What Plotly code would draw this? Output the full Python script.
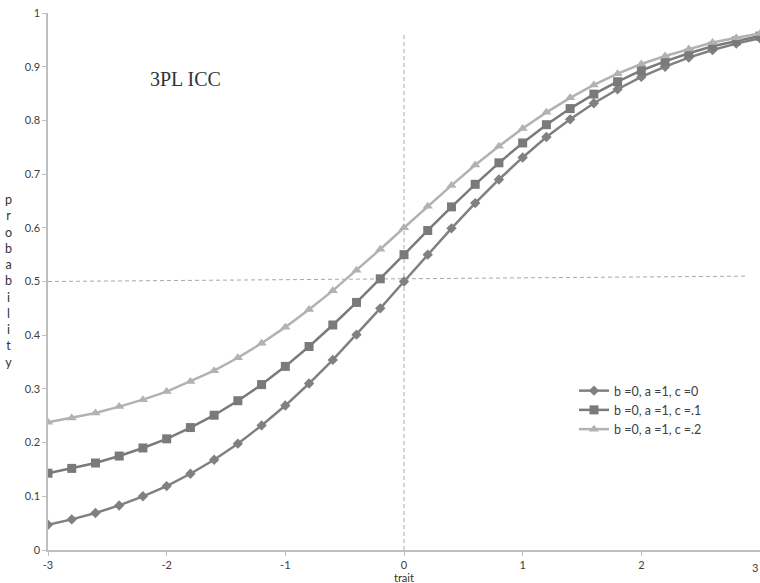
import plotly.graph_objects as go

trait = [-3.0, -2.8, -2.6, -2.4, -2.2, -2.0, -1.8, -1.6, -1.4, -1.2, -1.0, -0.8, -0.6, -0.4, -0.2,
         0.0, 0.2, 0.4, 0.6, 0.8, 1.0, 1.2, 1.4, 1.6, 1.8, 2.0, 2.2, 2.4, 2.6, 2.8, 3.0]

p_c0 = [0.047, 0.057, 0.069, 0.083, 0.100, 0.119, 0.142, 0.168, 0.198, 0.232, 0.269, 0.310, 0.354,
        0.401, 0.450, 0.500, 0.550, 0.599, 0.646, 0.690, 0.731, 0.769, 0.802, 0.832, 0.858, 0.881,
        0.900, 0.917, 0.931, 0.943, 0.953]
p_c1 = [0.143, 0.152, 0.162, 0.175, 0.190, 0.207, 0.228, 0.251, 0.278, 0.308, 0.342, 0.379, 0.419,
        0.461, 0.505, 0.550, 0.595, 0.639, 0.681, 0.721, 0.758, 0.792, 0.822, 0.849, 0.872, 0.893,
        0.910, 0.925, 0.938, 0.948, 0.957]
p_c2 = [0.238, 0.246, 0.255, 0.267, 0.280, 0.295, 0.314, 0.334, 0.358, 0.385, 0.415, 0.448, 0.483,
        0.521, 0.560, 0.600, 0.640, 0.679, 0.717, 0.752, 0.785, 0.815, 0.842, 0.866, 0.887, 0.905,
        0.920, 0.933, 0.945, 0.954, 0.962]

series_names = ["b =0, a =1, c =0", "b =0, a =1, c =.1", "b =0, a =1, c =.2"]

x_ticks = [-3, -2, -1, 0, 1, 2, 3]
y_ticks = [0, 0.1, 0.2, 0.3, 0.4, 0.5, 0.6, 0.7, 0.8, 0.9, 1]
y_tick_text = ["0", "0.1", "0.2", "0.3", "0.4", "0.5", "0.6", "0.7", "0.8", "0.9", "1"]

# reference lines (dashed)
hline_x = [-3, 2.89]
hline_y = [0.5, 0.51]
vline_x = [0, 0]
vline_y = [0, 0.963]

FONT = "Lato"
W, H = 760, 583
L, R, T, B = 48, 0, 13, 33


def px_x(px):
    return (px - L) / (W - L - R)


def px_y(py):
    return (H - B - py) / (H - T - B)


fig = go.Figure()

fig.add_trace(go.Scatter(x=hline_x, y=hline_y, mode="lines", showlegend=False, hoverinfo="skip",
                         line=dict(color="#a8a8a8", width=1, dash="4px,3px")))
fig.add_trace(go.Scatter(x=vline_x, y=vline_y, mode="lines", showlegend=False, hoverinfo="skip",
                         line=dict(color="#a8a8a8", width=1, dash="4px,3px")))

styles = [
    dict(color="#808080", symbol="diamond", size=8),
    dict(color="#7a7a7a", symbol="square", size=9),
    dict(color="#b2b2b2", symbol="triangle-up", size=9),
]
for name, ys, st in zip(series_names, [p_c0, p_c1, p_c2], styles):
    fig.add_trace(go.Scatter(
        x=trait, y=ys, mode="lines+markers", name=name,
        line=dict(color=st["color"], width=2.5),
        marker=dict(color=st["color"], symbol=st["symbol"], size=st["size"], line=dict(width=0)),
    ))

fig.update_layout(
    width=W, height=H,
    margin=dict(l=L, r=R, t=T, b=B),
    paper_bgcolor="white", plot_bgcolor="white",
    font=dict(family=FONT, size=11, color="#404040"),
    legend=dict(x=px_x(574), y=px_y(376), xanchor="left", yanchor="top",
                bgcolor="rgba(0,0,0,0)", font=dict(size=12.5, color="#404040"),
                tracegroupgap=0, itemwidth=30),
    annotations=[
        dict(text="3PL ICC", x=px_x(185), y=px_y(79), xref="paper", yref="paper", showarrow=False,
             xanchor="center", yanchor="middle",
             font=dict(family="Liberation Serif", size=20, color="#333333")),
        dict(text="trait", x=0, y=px_y(577), xref="x", yref="paper", showarrow=False,
             xanchor="center", yanchor="middle", font=dict(family=FONT, size=11, color="#333333")),
        dict(text="3", x=3, y=px_y(567), xref="x", yref="paper", showarrow=False,
             xanchor="right", yanchor="middle", font=dict(family=FONT, size=11, color="#404040")),
        dict(text="<br>".join(list("probability")), x=px_x(8), y=px_y(281), xref="paper", yref="paper",
             showarrow=False, xanchor="center", yanchor="middle",
             font=dict(family=FONT, size=12.5, color="#333333")),
    ],
)

fig.update_xaxes(range=[-3, 3], tickvals=x_ticks, ticktext=[str(v) for v in x_ticks],
                 showgrid=False, zeroline=False, showline=True, linecolor="#bfbfbf", linewidth=1.5,
                 ticks="outside", ticklen=4, tickcolor="#bfbfbf", tickfont=dict(size=11, color="#404040"))
fig.update_yaxes(range=[0, 1], tickvals=y_ticks, ticktext=y_tick_text,
                 showgrid=False, zeroline=False, showline=True, linecolor="#bfbfbf", linewidth=1.5,
                 ticks="outside", ticklen=4, tickcolor="#bfbfbf", tickfont=dict(size=11, color="#404040"))

fig.write_html("out.html")
